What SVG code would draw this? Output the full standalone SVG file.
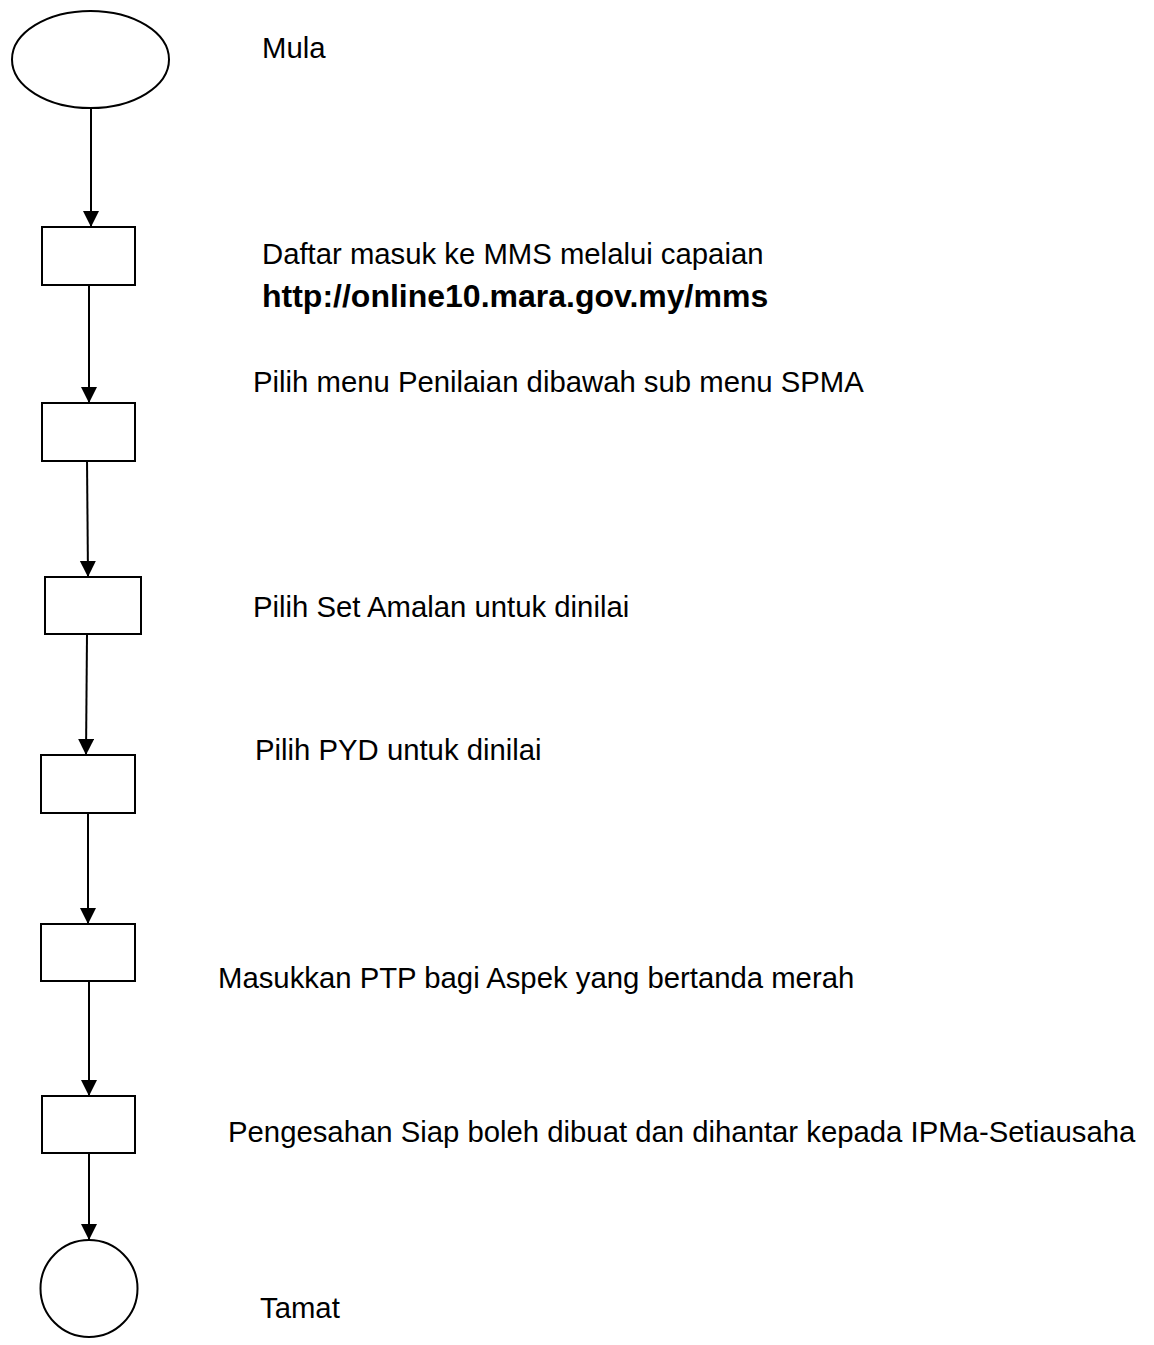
<svg xmlns="http://www.w3.org/2000/svg" width="1154" height="1345" viewBox="0 0 1154 1345">
<style>
.shape{fill:#fff;stroke:#000;stroke-width:2}
.conn{stroke:#000;stroke-width:2;fill:none}
.t{font-family:"Liberation Sans",Arial,sans-serif;font-size:29.3px;fill:#000}
.b{font-weight:bold;font-size:32px}
</style>
<defs>
<marker id="arr" markerUnits="userSpaceOnUse" markerWidth="17" markerHeight="17" refX="16" refY="8" orient="auto">
<path d="M0,0 L16,8 L0,16 z" fill="#000"/>
</marker>
</defs>
<rect width="1154" height="1345" fill="#fff"/>
<g id="connectors">
<line class="conn" x1="91" y1="108" x2="91" y2="227" marker-end="url(#arr)"/>
<line class="conn" x1="89" y1="285" x2="89" y2="403" marker-end="url(#arr)"/>
<line class="conn" x1="87" y1="459" x2="88" y2="577" marker-end="url(#arr)"/>
<line class="conn" x1="87" y1="634" x2="86" y2="755" marker-end="url(#arr)"/>
<line class="conn" x1="88" y1="813" x2="88" y2="924" marker-end="url(#arr)"/>
<line class="conn" x1="89" y1="981" x2="89" y2="1096" marker-end="url(#arr)"/>
<line class="conn" x1="89" y1="1153" x2="89" y2="1240" marker-end="url(#arr)"/>
</g>
<g id="start">
<ellipse class="shape" cx="90.5" cy="59.5" rx="78.5" ry="48.5"/>
<text class="t" x="262" y="58">Mula</text>
</g>
<g id="step1">
<rect class="shape" x="42" y="227" width="93" height="58"/>
<text class="t" x="262" y="264">Daftar masuk ke MMS melalui capaian</text>
<text class="t b" x="262" y="307">http://online10.mara.gov.my/mms</text>
</g>
<g id="step2">
<rect class="shape" x="42" y="403" width="93" height="58"/>
<text class="t" x="253" y="392">Pilih menu Penilaian dibawah sub menu SPMA</text>
</g>
<g id="step3">
<rect class="shape" x="45" y="577" width="96" height="57"/>
<text class="t" x="253" y="617">Pilih Set Amalan untuk dinilai</text>
</g>
<g id="step4">
<rect class="shape" x="41" y="755" width="94" height="58"/>
<text class="t" x="255" y="760">Pilih PYD untuk dinilai</text>
</g>
<g id="step5">
<rect class="shape" x="41" y="924" width="94" height="57"/>
<text class="t" x="218" y="988">Masukkan PTP bagi Aspek yang bertanda merah</text>
</g>
<g id="step6">
<rect class="shape" x="42" y="1096" width="93" height="57"/>
<text class="t" x="228" y="1142">Pengesahan Siap boleh dibuat dan dihantar kepada IPMa-Setiausaha</text>
</g>
<g id="end">
<circle class="shape" cx="89" cy="1288.5" r="48.5"/>
<text class="t" x="260" y="1318">Tamat</text>
</g>
</svg>
